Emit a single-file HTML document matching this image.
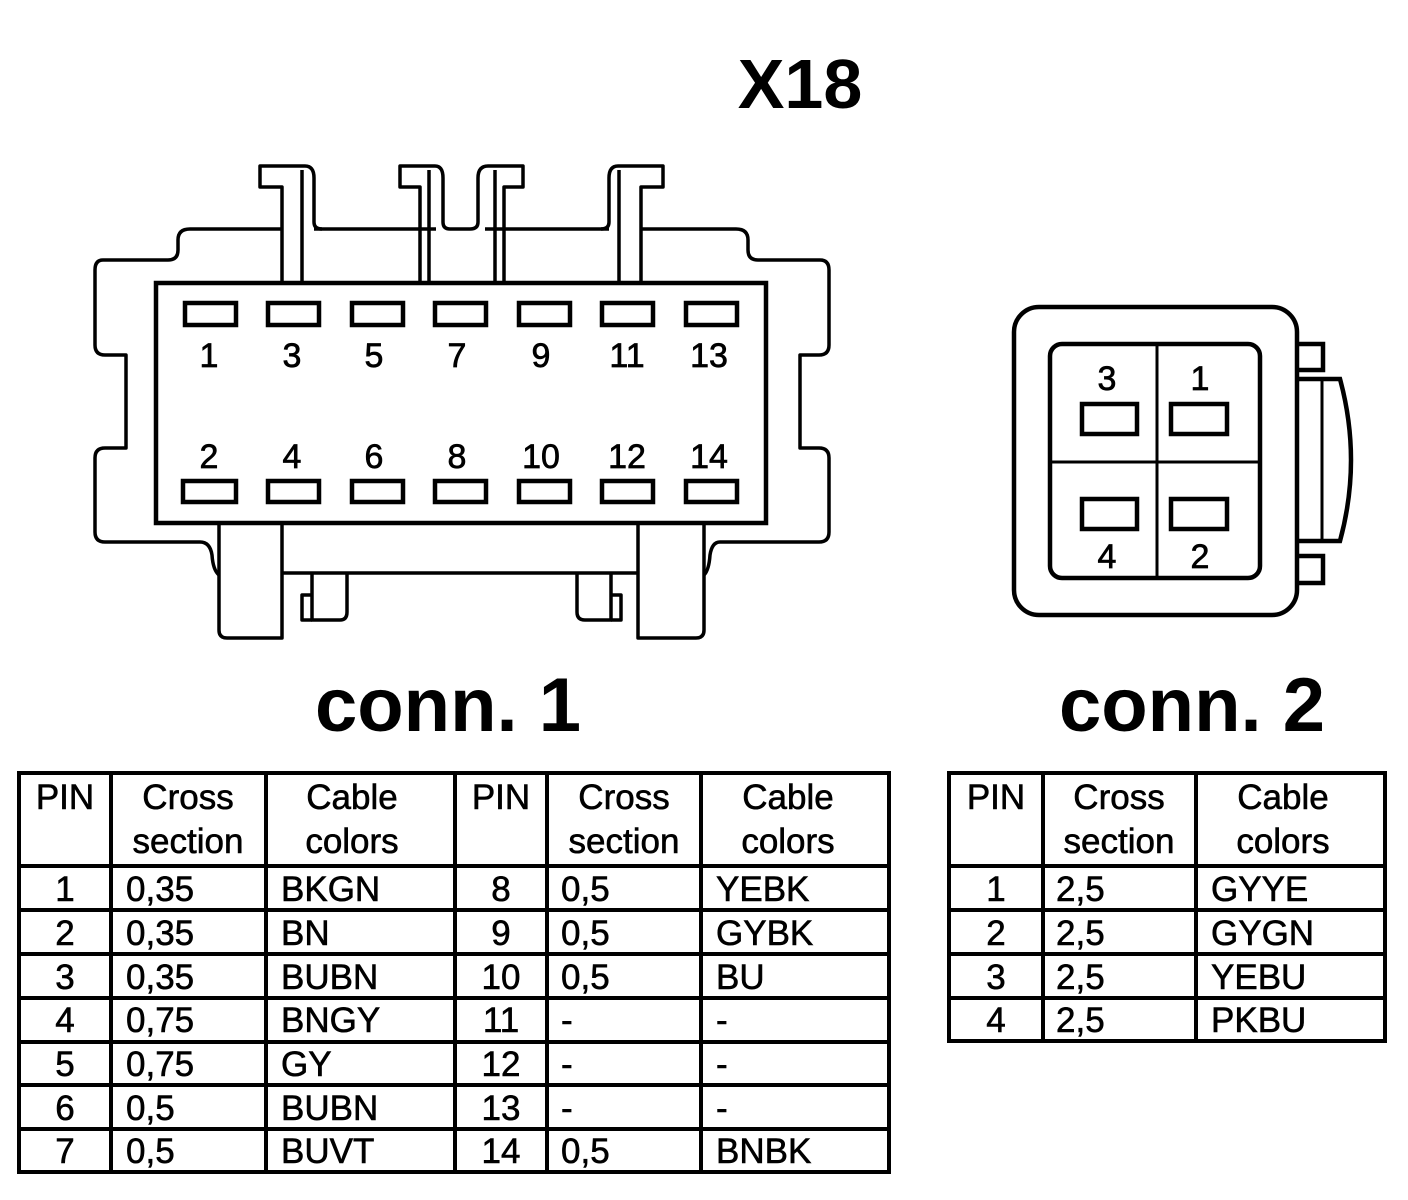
<!DOCTYPE html>
<html><head><meta charset="utf-8"><style>html,body{margin:0;padding:0;background:#fff}svg{display:block}</style></head><body>
<svg width="1408" height="1200" viewBox="0 0 1408 1200" xmlns="http://www.w3.org/2000/svg" font-family="Liberation Sans, Arial, sans-serif">
<rect width="1408" height="1200" fill="#fff"/>
<text x="800" y="108" font-size="70" font-weight="bold" text-anchor="middle">X18</text>
<text x="448" y="731" font-size="76" font-weight="bold" text-anchor="middle">conn. 1</text>
<text x="1192" y="731" font-size="76" font-weight="bold" text-anchor="middle">conn. 2</text>

<g fill="none" stroke="#000" stroke-width="3.5" stroke-linejoin="round">
<path d="M282,229 H190 Q178,229 178,240 V250 Q178,260 168,260 H103 Q95,260 95,270 V345 Q95,355 105,355 H126 V448 H105 Q95,448 95,458 V532 Q95,542 105,542 H200 Q210,542 212,555 Q213,570 219,575"/>
<path d="M641,229 H736 Q748,229 748,240 V250 Q748,260 758,260 H820 Q829,260 829,270 V345 Q829,355 819,355 H800 V448 H819 Q829,448 829,458 V532 Q829,542 819,542 H720 Q712,542 710,555 Q709,570 704,575"/>
<path d="M314,229 H436 M485,229 H609"/>
<path d="M219,523 V630 Q219,638 227,638 H282 V523"/>
<path d="M638,523 V638 H696 Q704,638 704,630 V523"/>
<path d="M282,573 H638"/>
<path d="M312,573 V620 H340 Q347,620 347,612 V573"/>
<path d="M312,595 H302 V620 H312"/>
<path d="M577,573 V612 Q577,620 585,620 H611 V573"/>
<path d="M611,595 H621 V620 H611"/>
<path d="M282,283 V187 H260 V166 H305 Q314,166 314,178 V222 Q314,229 322,229"/>
<path d="M302,170 V283"/>
<path d="M420,283 V187 H400 V166 H435 Q443,166 443,178 V222 Q443,229 450,229 H470 Q478,229 478,222 V178 Q478,166 488,166 H523 V187 H504 V283"/>
<path d="M429,170 V283 M495,170 V283"/>
<path d="M641,283 V187 H663 V166 H618 Q609,166 609,178 V222 Q609,229 601,229"/>
<path d="M619,170 V283"/>
</g>
<rect x="156" y="283" width="610" height="240" fill="#fff" stroke="#000" stroke-width="4.5"/>
<g fill="none" stroke="#000" stroke-width="4.5">
<rect x="185" y="303" width="51" height="22"/><rect x="268" y="303" width="51" height="22"/><rect x="352" y="303" width="51" height="22"/><rect x="435" y="303" width="51" height="22"/><rect x="519" y="303" width="51" height="22"/><rect x="602" y="303" width="51" height="22"/><rect x="686" y="303" width="51" height="22"/>
<rect x="183" y="481" width="53" height="21"/><rect x="268" y="481" width="51" height="21"/><rect x="352" y="481" width="51" height="21"/><rect x="435" y="481" width="51" height="21"/><rect x="519" y="481" width="51" height="21"/><rect x="602" y="481" width="51" height="21"/><rect x="686" y="481" width="51" height="21"/>
</g>
<g font-size="34" text-anchor="middle" stroke="#000" stroke-width="0.7">
<text x="209" y="367">1</text><text x="292" y="367">3</text><text x="374" y="367">5</text><text x="457" y="367">7</text><text x="541" y="367">9</text><text x="627" y="367">11</text><text x="709" y="367">13</text>
<text x="209" y="468">2</text><text x="292" y="468">4</text><text x="374" y="468">6</text><text x="457" y="468">8</text><text x="541" y="468">10</text><text x="627" y="468">12</text><text x="709" y="468">14</text>
</g>

<g fill="none" stroke="#000" stroke-width="4.5">
<rect x="1014" y="307" width="283" height="308" rx="25"/>
<rect x="1050" y="344" width="210" height="234" rx="12"/>
<path d="M1157,344 V578 M1050,462 H1260" stroke-width="3"/>
<rect x="1082" y="404" width="55" height="30"/><rect x="1171" y="404" width="56" height="30"/>
<rect x="1082" y="499" width="55" height="30"/><rect x="1171" y="499" width="56" height="30"/>
<path d="M1297,344 H1323 V370 H1297"/>
<path d="M1297,556 H1323 V583 H1297"/>
<path d="M1297,379 H1340 Q1362,460 1340,541 H1297"/>
<path d="M1322,379 V541" stroke-width="3"/>
</g>
<g font-size="34" text-anchor="middle" stroke="#000" stroke-width="0.7">
<text x="1107" y="390">3</text><text x="1200" y="390">1</text><text x="1107" y="568">4</text><text x="1200" y="568">2</text>
</g>

<g stroke="#000" fill="none">
<rect x="19" y="773" width="870" height="399" stroke-width="4"/>
<path stroke-width="4" d="M111,773 V1172 M266,773 V1172 M455,773 V1172 M547,773 V1172 M701,773 V1172 M19,866 H889 M19,910 H889 M19,954 H889 M19,998 H889 M19,1042 H889 M19,1085 H889 M19,1129 H889"/>
<rect x="949" y="773" width="436" height="268" stroke-width="4"/>
<path stroke-width="4" d="M1043,773 V1041 M1196,773 V1041 M949,866 H1385 M949,910 H1385 M949,954 H1385 M949,998 H1385"/>
</g>
<g font-size="35" stroke="#000" stroke-width="0.6">
<g text-anchor="middle">
<text x="65" y="809">PIN</text><text x="188" y="809">Cross</text><text x="188" y="853">section</text><text x="352" y="809">Cable</text><text x="352" y="853">colors</text>
<text x="501" y="809">PIN</text><text x="624" y="809">Cross</text><text x="624" y="853">section</text><text x="788" y="809">Cable</text><text x="788" y="853">colors</text>
<text x="996" y="809">PIN</text><text x="1119" y="809">Cross</text><text x="1119" y="853">section</text><text x="1283" y="809">Cable</text><text x="1283" y="853">colors</text>
<text x="65" y="901">1</text><text x="65" y="945">2</text><text x="65" y="989">3</text><text x="65" y="1032">4</text><text x="65" y="1076">5</text><text x="65" y="1120">6</text><text x="65" y="1163">7</text>
<text x="501" y="901">8</text><text x="501" y="945">9</text><text x="501" y="989">10</text><text x="501" y="1032">11</text><text x="501" y="1076">12</text><text x="501" y="1120">13</text><text x="501" y="1163">14</text>
<text x="996" y="901">1</text><text x="996" y="945">2</text><text x="996" y="989">3</text><text x="996" y="1032">4</text>
</g>
<g>
<text x="126" y="901">0,35</text><text x="126" y="945">0,35</text><text x="126" y="989">0,35</text><text x="126" y="1032">0,75</text><text x="126" y="1076">0,75</text><text x="126" y="1120">0,5</text><text x="126" y="1163">0,5</text>
<text x="281" y="901">BKGN</text><text x="281" y="945">BN</text><text x="281" y="989">BUBN</text><text x="281" y="1032">BNGY</text><text x="281" y="1076">GY</text><text x="281" y="1120">BUBN</text><text x="281" y="1163">BUVT</text>
<text x="561" y="901">0,5</text><text x="561" y="945">0,5</text><text x="561" y="989">0,5</text><text x="561" y="1032">-</text><text x="561" y="1076">-</text><text x="561" y="1120">-</text><text x="561" y="1163">0,5</text>
<text x="716" y="901">YEBK</text><text x="716" y="945">GYBK</text><text x="716" y="989">BU</text><text x="716" y="1032">-</text><text x="716" y="1076">-</text><text x="716" y="1120">-</text><text x="716" y="1163">BNBK</text>
<text x="1056" y="901">2,5</text><text x="1056" y="945">2,5</text><text x="1056" y="989">2,5</text><text x="1056" y="1032">2,5</text>
<text x="1211" y="901">GYYE</text><text x="1211" y="945">GYGN</text><text x="1211" y="989">YEBU</text><text x="1211" y="1032">PKBU</text>
</g>
</g>
</svg>
</body></html>
